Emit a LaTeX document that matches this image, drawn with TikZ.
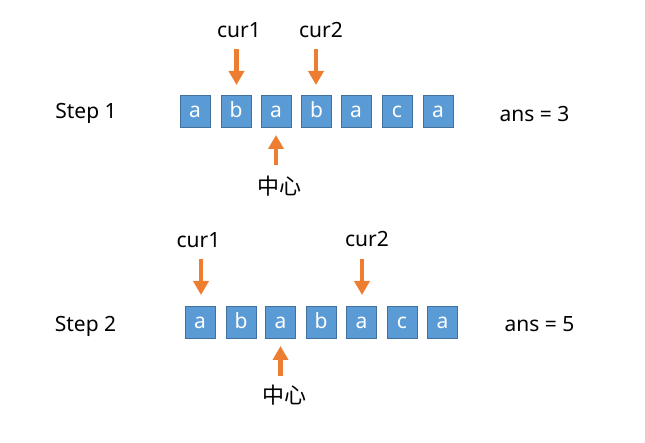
\documentclass[tikz,border=0pt]{standalone}
\usepackage{fontspec}
\setmainfont{Noto Sans}
\newfontfamily\cjk{Noto Sans CJK SC}
\usetikzlibrary{arrows.meta}
\definecolor{boxfill}{HTML}{5B9BD5}
\definecolor{boxline}{HTML}{41719C}
\definecolor{arr}{HTML}{ED7D31}
\tikzset{
  cell/.style={draw=boxline, line width=0.8pt, fill=boxfill, minimum width=30pt, minimum height=32pt, inner sep=0pt, text=white, font=\fontsize{21}{24}\selectfont, text height=14pt, text depth=-4pt},
  lbl/.style={inner sep=0pt, anchor=base, font=\fontsize{21}{24}\selectfont},
  cjklbl/.style={inner sep=0pt, font=\fontsize{22}{26}\selectfont\cjk},
  oarrow/.style={draw=arr, line width=4.5pt, -{Triangle[width=15pt,length=14pt]}}
}
\begin{document}
\begin{tikzpicture}[x=1pt,y=-1pt]
\useasboundingbox (0,0) rectangle (645,443);
% Row 1
\node[lbl] (s1) at (86,119) {Step 1};
\node[lbl] (ans1) at (534.5,122) {ans = 3};
\foreach \i/\x/\c in {1/195/a,2/236/b,3/276/a,4/316.5/b,5/356/a,6/397/c,7/438/a}
  \node[cell] (r1c\i) at (\x,111) {\c};
\node[lbl] (t1a) at (239,38) {cur1};
\node[lbl] (t1b) at (321,38) {cur2};
\coordinate (a1s) at (236.5,49);
\coordinate (a1e) at (236.5,85);
\coordinate (a2s) at (316,49);
\coordinate (a2e) at (316,85);
\draw[oarrow] (a1s) -- (a1e);
\draw[oarrow] (a2s) -- (a2e);
\coordinate (c1s) at (276,165);
\coordinate (c1e) at (276,135);
\draw[oarrow] (c1s) -- (c1e);
\node[cjklbl] (m1) at (279.5,186) {中心};
% Row 2
\node[lbl] (s2) at (85.5,332) {Step 2};
\node[lbl] (ans2) at (539.5,332) {ans = 5};
\foreach \i/\x/\c in {1/200/a,2/241/b,3/280.5/a,4/321/b,5/361.5/a,6/402/c,7/442.5/a}
  \node[cell] (r2c\i) at (\x,322) {\c};
\node[lbl] (t2a) at (198.5,248) {cur1};
\node[lbl] (t2b) at (367,247) {cur2};
\coordinate (b1s) at (201,259);
\coordinate (b1e) at (201,295);
\coordinate (b2s) at (362,259);
\coordinate (b2e) at (362,295);
\draw[oarrow] (b1s) -- (b1e);
\draw[oarrow] (b2s) -- (b2e);
\coordinate (c2s) at (280.5,376);
\coordinate (c2e) at (280.5,346);
\draw[oarrow] (c2s) -- (c2e);
\node[cjklbl] (m2) at (284,395.5) {中心};
\end{tikzpicture}
\end{document}
